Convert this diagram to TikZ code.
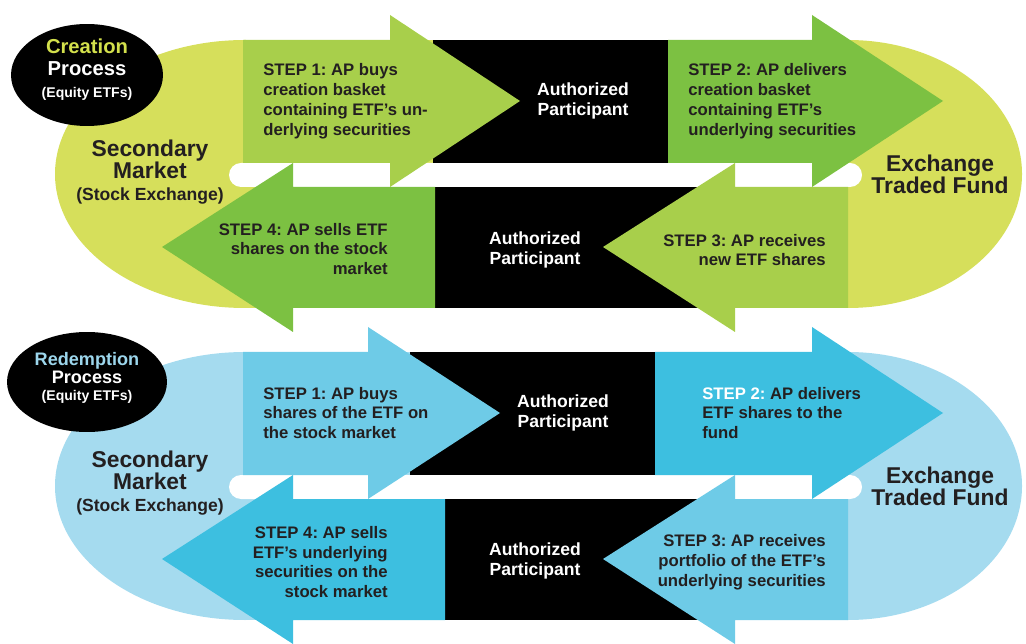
\documentclass[tikz,border=0pt]{standalone}
\usepackage{fontspec}
\setmainfont{Liberation Sans}
\usepackage{xcolor}
\usetikzlibrary{shapes.geometric}
\frenchspacing

\definecolor{ink}{HTML}{231F20}
\definecolor{crloop}{HTML}{D6DF5B}
\definecolor{crlight}{HTML}{A8CF4B}
\definecolor{crmid}{HTML}{7CC142}
\definecolor{crtitle}{HTML}{D3E04C}
\definecolor{rdloop}{HTML}{A5DBEF}
\definecolor{rdlight}{HTML}{6ECBE7}
\definecolor{rdmid}{HTML}{3DBFE0}
\definecolor{rdtitle}{HTML}{9CD6EC}

\begin{document}
\begin{tikzpicture}[
  x=0.02cm, y=-0.02cm,
  steptxt/.style={font=\fontsize{9.5}{11.3}\selectfont\bfseries, text=ink, inner sep=0pt},
  stepl/.style={steptxt, anchor=west, align=left},
  stepr/.style={steptxt, anchor=east, align=right},
  aptxt/.style={font=\fontsize{10}{11.3}\selectfont\bfseries, text=white,
                align=center, inner sep=0pt},
  endtxt/.style={font=\fontsize{13}{12.5}\selectfont\bfseries, text=ink,
                 align=center, inner sep=0pt},
  badge/.style={ellipse, fill=black, minimum width=3.04cm, minimum height=2.04cm,
                inner sep=0pt},
  badgetxt/.style={text=white, align=center, inner sep=0pt},
  hole/.style={fill=white, rounded corners=0.24cm},
]
\useasboundingbox (0,0) rectangle (1026,644);

%% ── Creation loop ────────────────────────────────────────────────────────────
\fill[crloop] (245,40) rectangle (848,308);
\fill[crloop] (245,174) ellipse [x radius=190, y radius=134];
\fill[crloop] (848,174) ellipse [x radius=174, y radius=134];
\fill[hole] (229,163) rectangle (862,187);
\fill[black] (433,40) rectangle (668,163);
\fill[black] (435,187) rectangle (700,308);

% step arrows
\fill[crlight] (243,40) -- (390,40) -- (390,15) -- (520,101) -- (390,187)
  -- (390,163) -- (243,163) -- cycle;
\fill[crmid] (668,40) -- (812,40) -- (812,15) -- (943,101) -- (812,187)
  -- (812,163) -- (668,163) -- cycle;
\fill[crlight] (848,187) -- (735,187) -- (735,163) -- (603,247) -- (735,332)
  -- (735,308) -- (848,308) -- cycle;
\fill[crmid] (435,187) -- (293,187) -- (293,163) -- (162,247) -- (293,332)
  -- (293,308) -- (435,308) -- cycle;

\node[stepl] (cstep1) at (263,101)
  {STEP 1: AP buys\\creation basket\\containing ETF’s un-\\derlying securities};
\node[stepl] (cstep2) at (688,101)
  {STEP 2: AP delivers\\creation basket\\containing ETF’s\\underlying securities};
\node[stepr] (cstep3) at (826,250) {STEP 3: AP receives\\new ETF shares};
\node[stepr] (cstep4) at (388,249)
  {STEP 4: AP sells ETF\\shares on the stock\\market};

\node[aptxt] (cap1) at (583,101) {Authorized\\Participant};
\node[aptxt] (cap2) at (535,250) {Authorized\\Participant};
\node[endtxt] (csec) at (150,172)
  {Secondary\\Market\\{\fontsize{10}{12.5}\selectfont (Stock Exchange)}};
\node[endtxt] (cetf) at (940,174) {Exchange\\Traded Fund};

\node[badge] (cbadge) at (87,75) {};
\node[badgetxt, font=\fontsize{11.5}{12.5}\selectfont\bfseries] (cbtxt) at (87,70)
  {\textcolor{crtitle}{Creation}\\Process\\{\fontsize{8}{12.5}\selectfont(Equity ETFs)}};

%% ── Redemption loop ──────────────────────────────────────────────────────────
\fill[rdloop] (245,352) rectangle (848,620);
\fill[rdloop] (245,486) ellipse [x radius=190, y radius=134];
\fill[rdloop] (848,486) ellipse [x radius=174, y radius=134];
\fill[hole] (229,475) rectangle (862,499);
\fill[black] (410,352) rectangle (655,475);
\fill[black] (445,499) rectangle (700,620);

% step arrows
\fill[rdlight] (243,352) -- (368,352) -- (368,327) -- (500,413) -- (368,499)
  -- (368,475) -- (243,475) -- cycle;
\fill[rdmid] (655,352) -- (812,352) -- (812,327) -- (943,413) -- (812,499)
  -- (812,475) -- (655,475) -- cycle;
\fill[rdlight] (848,499) -- (735,499) -- (735,475) -- (603,559) -- (735,644)
  -- (735,620) -- (848,620) -- cycle;
\fill[rdmid] (445,499) -- (293,499) -- (293,475) -- (162,559) -- (293,644)
  -- (293,620) -- (445,620) -- cycle;

\node[stepl] (rstep1) at (263,413)
  {STEP 1: AP buys\\shares of the ETF on\\the stock market};
\node[stepl] (rstep2) at (702,413)
  {\textcolor{white}{STEP 2:} AP delivers\\ETF shares to the\\fund};
\node[stepr] (rstep3) at (826,562)
  {STEP 3: AP receives\\portfolio of the ETF’s\\underlying securities};
\node[stepr] (rstep4) at (388,562)
  {STEP 4: AP sells\\ETF’s underlying\\securities on the\\stock market};

\node[aptxt] (rap1) at (563,413) {Authorized\\Participant};
\node[aptxt] (rap2) at (535,561) {Authorized\\Participant};
\node[endtxt] (rsec) at (150,483)
  {Secondary\\Market\\{\fontsize{10}{12.5}\selectfont (Stock Exchange)}};
\node[endtxt] (retf) at (940,486) {Exchange\\Traded Fund};

\node[badge, minimum width=3.2cm, minimum height=2cm] (rbadge) at (87,382) {};
\node[badgetxt, font=\fontsize{10.3}{10}\selectfont\bfseries] (rbtxt) at (87,378)
  {\textcolor{rdtitle}{Redemption}\\Process\\{\fontsize{8}{10}\selectfont(Equity ETFs)}};

\end{tikzpicture}
\end{document}
